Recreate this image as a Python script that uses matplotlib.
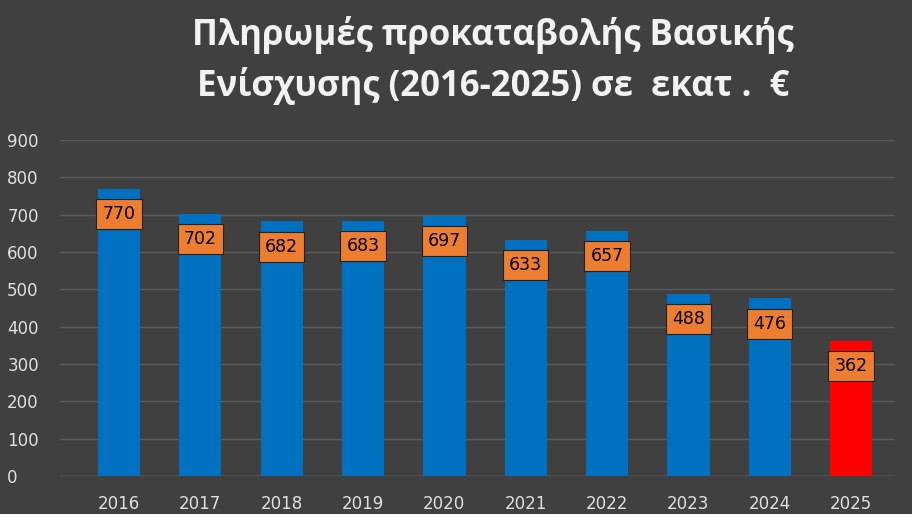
import matplotlib
matplotlib.use("Agg")
import matplotlib.pyplot as plt
from matplotlib.patches import Rectangle

years = ["2016","2017","2018","2019","2020","2021","2022","2023","2024","2025"]
values = [770, 702, 682, 683, 697, 633, 657, 488, 476, 362]
colors = ["#0070C0"]*9 + ["#FF0000"]

fig = plt.figure(figsize=(9.22, 5.22), dpi=100, facecolor="white")
fig.patches.append(Rectangle((0, 8/522), 912/922, 1, transform=fig.transFigure,
                             facecolor="#404040", edgecolor="none", zorder=-10))
ax = fig.add_axes([60/922, 1-476/522, 835/922, 336/522])
ax.set_facecolor("none")
x = list(range(len(years)))
ax.bar(x, values, width=0.52, color=colors, zorder=2)
for xi, v in zip(x, values):
    ax.text(xi, v - 68, str(v), ha="center", va="center", fontsize=12.5, color="black",
            bbox=dict(boxstyle="square,pad=0.35", facecolor="#ED7D31", edgecolor="#222222", lw=0.8),
            zorder=3)
ax.set_ylim(0, 900)
ax.set_xlim(-0.725, 9.54)
ax.set_yticks(range(0, 901, 100))
ax.set_xticks(x)
ax.set_xticklabels(years)
ax.tick_params(colors="#E0E0E0", labelsize=12, length=0)
ax.xaxis.set_tick_params(pad=14)
ax.yaxis.set_tick_params(pad=38)
for lab in ax.get_yticklabels():
    lab.set_horizontalalignment("left")
ax.grid(axis="y", color="#5A5A5A", lw=1, zorder=0)
for s in ax.spines.values():
    s.set_visible(False)
ax.axhline(0, color="#7F7F7F", lw=1, zorder=1)
fig.text(0.535, 0.885, "Πληρωμές προκαταβολής Βασικής\nΕνίσχυσης (2016-2025) σε  εκατ .  €",
         ha="center", va="center", fontsize=25, fontweight="bold", color="#F2F2F2",
         linespacing=1.45, family=["Open Sans", "DejaVu Sans"])
fig.savefig("out.png", dpi=100, facecolor=fig.get_facecolor())
